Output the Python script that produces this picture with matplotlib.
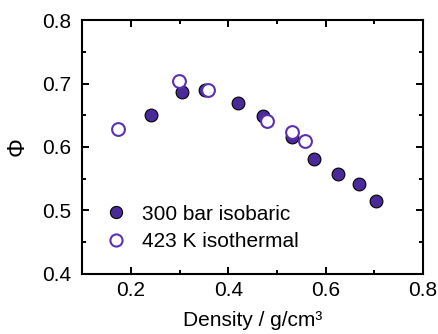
import matplotlib
matplotlib.use("Agg")
import matplotlib.pyplot as plt
from matplotlib.ticker import MultipleLocator

plt.rcParams['font.family'] = ['Liberation Sans', 'DejaVu Sans']

iso_bar_density = [0.242, 0.304, 0.352, 0.419, 0.471, 0.530, 0.575, 0.626, 0.669, 0.703]
iso_bar_phi = [0.650, 0.686, 0.690, 0.670, 0.649, 0.616, 0.581, 0.557, 0.541, 0.515]
iso_therm_density = [0.173, 0.299, 0.358, 0.479, 0.531, 0.558]
iso_therm_phi = [0.628, 0.704, 0.690, 0.641, 0.624, 0.610]

fig = plt.figure(figsize=(4.38, 3.34), dpi=100)
ax = fig.add_axes([0.188, 0.180, 0.778, 0.760])

ax.plot(iso_bar_density, iso_bar_phi, 'o', ms=9.2, mfc='#4a2a98', mec='black', mew=0.8,
        label='300 bar isobaric', zorder=3)
ax.plot(iso_therm_density, iso_therm_phi, 'o', ms=9.2, mfc='white', mec='#5a30b4', mew=1.5,
        label='423 K isothermal', zorder=4)

ax.set_xlim(0.1, 0.8)
ax.set_ylim(0.4, 0.8)
ax.xaxis.set_major_locator(MultipleLocator(0.2))
ax.xaxis.set_minor_locator(MultipleLocator(0.1))
ax.yaxis.set_major_locator(MultipleLocator(0.1))
ax.yaxis.set_minor_locator(MultipleLocator(0.05))
ax.tick_params(which='both', direction='in', top=True, right=True, width=1.4, labelsize=15)
ax.tick_params(which='major', length=5)
ax.tick_params(which='minor', length=3)
ax.tick_params(axis='x', which='major', pad=5)
ax.tick_params(axis='y', which='major', pad=8)
for s in ax.spines.values():
    s.set_linewidth(1.5)

ax.set_xlabel('Density / g/cm³', fontsize=15, labelpad=8)
ax.set_ylabel('Φ', fontsize=17, labelpad=10)

ax.legend(loc='lower left', frameon=False, fontsize=15, handletextpad=0.5,
          handlelength=1.5, labelspacing=0.4, markerscale=0.95,
          borderaxespad=0.45, borderpad=0.4, bbox_to_anchor=(0.0, 0.021))

fig.savefig('out.png', dpi=100)
